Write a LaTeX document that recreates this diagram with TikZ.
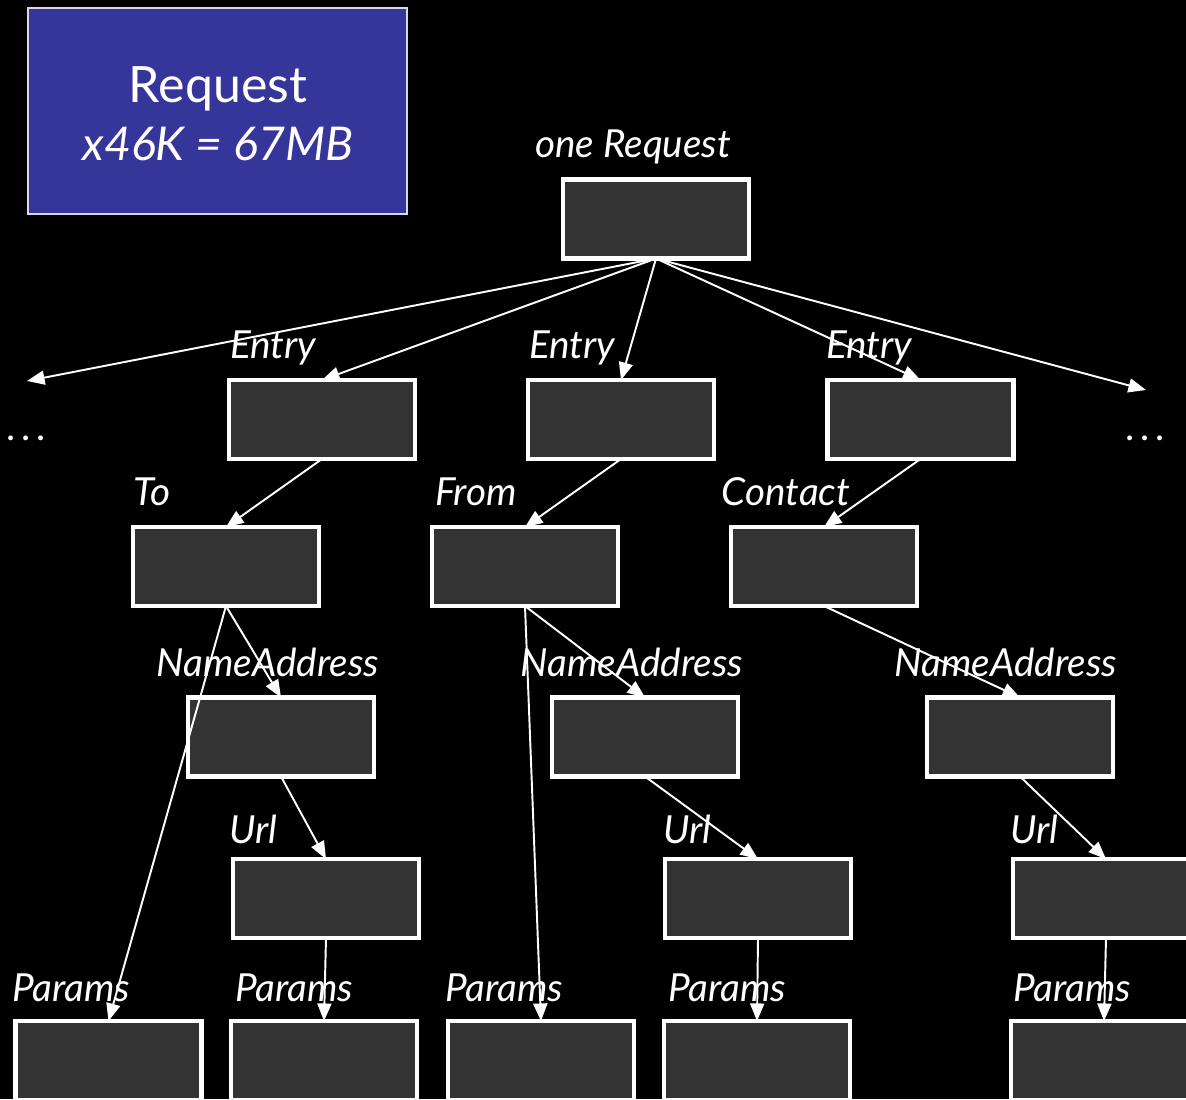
\documentclass[tikz,border=0pt]{standalone}
\usepackage{fontspec}
\setmainfont{Lato}
\usetikzlibrary{arrows.meta}
\definecolor{boxfill}{HTML}{333333}
\definecolor{bluefill}{HTML}{36369A}
\definecolor{blueedge}{HTML}{D8D8E8}

\begin{document}
\begin{tikzpicture}[x=0.02cm,y=-0.02cm,
  objbox/.style={draw=white, fill=boxfill, line width=0.085cm,
    minimum width=3.72cm, minimum height=1.58cm, inner sep=0pt, outer sep=0pt},
  lbl/.style={text=white, font=\fontsize{22}{26}\selectfont\itshape,
    inner sep=0pt, anchor=base},
  link/.style={draw=white, line width=1.1pt,
    -{Triangle[length=10pt,width=8pt]}},
]
% page background
\fill[black] (0,0) rectangle (1186,1099);
\useasboundingbox (0,0) rectangle (1186,1099);

% summary box
\node[draw=blueedge, fill=bluefill, line width=0.04cm, inner sep=0pt, outer sep=0pt,
  minimum width=7.6cm, minimum height=4.14cm] (summary) at (217.5,111) {};
\node[text=white, font=\fontsize{28.5}{32}\selectfont, inner sep=0pt, anchor=base]
  (sumtitle) at (218,102) {Request};
\node[text=white, font=\fontsize{26.5}{30}\selectfont\itshape, inner sep=0pt, anchor=base]
  (sumsize) at (218,160) {x46K = 67MB};

% object boxes
\node[objbox] (root) at (656,219) {};
\node[objbox] (e1) at (322,419.5) {};
\node[objbox] (e2) at (621,419.5) {};
\node[objbox] (e3) at (920.5,419.5) {};
\node[objbox] (to) at (226,566.5) {};
\node[objbox] (from) at (525,566.5) {};
\node[objbox] (contact) at (824,566.5) {};
\node[objbox] (na1) at (281,737) {};
\node[objbox] (na2) at (645,737) {};
\node[objbox] (na3) at (1020,737) {};
\node[objbox] (url1) at (326,898.5) {};
\node[objbox] (url2) at (758,898.5) {};
\node[objbox] (url3) at (1106,898.5) {};
\node[objbox] (p1) at (108.5,1060.5) {};
\node[objbox] (p2) at (324,1060.5) {};
\node[objbox] (p3) at (541,1060.5) {};
\node[objbox] (p4) at (757,1060.5) {};
\node[objbox] (p5) at (1104,1060.5) {};

% free ends of the elided entries
\coordinate (moreleft) at (27,381);
\coordinate (moreright) at (1146,390);

% labels
\node[lbl] (lroot) at (633,157) {one Request};
\node[lbl] (le1) at (273,358) {Entry};
\node[lbl] (le2) at (572,358) {Entry};
\node[lbl] (le3) at (869,358) {Entry};
\node[lbl] (lto) at (152,505) {To};
\node[lbl] (lfrom) at (476,505) {From};
\node[lbl] (lcontact) at (786,505) {Contact};
\node[lbl] (lna1) at (268,676) {NameAddress};
\node[lbl] (lna2) at (632,676) {NameAddress};
\node[lbl] (lna3) at (1006,676) {NameAddress};
\node[lbl] (lurl1) at (253,843) {Url};
\node[lbl] (lurl2) at (687,843) {Url};
\node[lbl] (lurl3) at (1034,843) {Url};
\node[lbl] (lp1) at (71,1001) {Params};
\node[lbl] (lp2) at (294,1001) {Params};
\node[lbl] (lp3) at (504,1001) {Params};
\node[lbl] (lp4) at (727,1001) {Params};
\node[lbl] (lp5) at (1072,1001) {Params};
\node[lbl, font=\fontsize{22}{26}\selectfont] (dotsl) at (26,440) {.\kern0.11cm.\kern0.11cm.};
\node[lbl, font=\fontsize{22}{26}\selectfont] (dotsr) at (1145,440) {.\kern0.11cm.\kern0.11cm.};

% references
\draw[link] (root.south) -- (moreleft);
\draw[link] (root.south) -- (e1.north);
\draw[link] (root.south) -- (e2.north);
\draw[link] (root.south) -- (e3.north);
\draw[link] (root.south) -- (moreright);
\draw[link] (e1.south) -- (to.north);
\draw[link] (e2.south) -- (from.north);
\draw[link] (e3.south) -- (contact.north);
\draw[link] (to.south) -- (na1.north);
\draw[link] (to.south) -- (p1.north);
\draw[link] (from.south) -- (na2.north);
\draw[link] (from.south) -- (p3.north);
\draw[link] (contact.south) -- (na3.north);
\draw[link] (na1.south) -- (url1.north);
\draw[link] (na2.south) -- (url2.north);
\draw[link] (na3.south) -- (url3.north);
\draw[link] (url1.south) -- (p2.north);
\draw[link] (url2.south) -- (p4.north);
\draw[link] (url3.south) -- (p5.north);
\end{tikzpicture}
\end{document}
